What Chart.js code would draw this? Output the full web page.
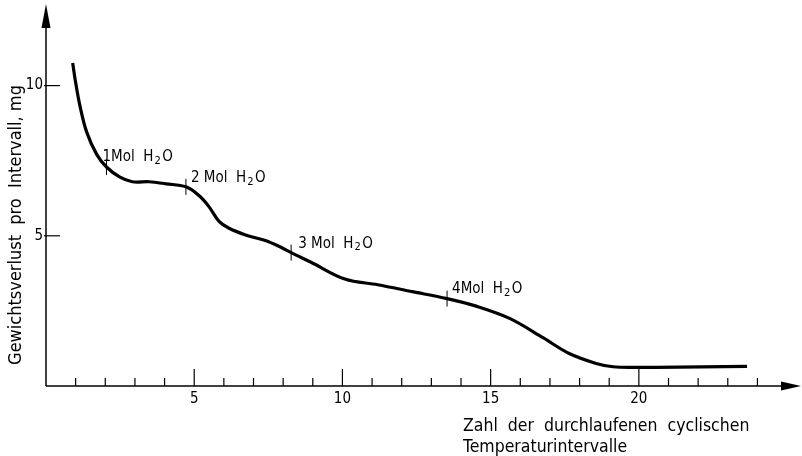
<!DOCTYPE html>
<html><head><meta charset="utf-8">
<script src="https://cdn.jsdelivr.net/npm/chart.js@4.4.0/dist/chart.umd.min.js"></script>
<style>html,body{margin:0;padding:0;background:#fff}#wrap{width:802px;height:456px}</style>
</head><body><div id="wrap"><canvas id="c" width="802" height="456"></canvas></div>
<script>
// ---- data ----
const cycles = [0.90, 1.00, 1.14, 1.37, 1.71, 2.04, 2.48, 2.91, 3.48, 4.05, 4.72, 5.16, 5.49, 5.83, 6.16, 6.73, 7.40, 7.94, 8.27, 8.94, 10.08, 11.19, 12.36, 13.53, 14.54, 15.64, 16.78, 17.65, 18.56, 19.13, 19.90, 20.57, 23.65];
const loss   = [10.75, 10.10, 9.35, 8.46, 7.71, 7.29, 6.96, 6.80, 6.80, 6.73, 6.63, 6.34, 5.98, 5.49, 5.26, 5.03, 4.84, 4.61, 4.44, 4.12, 3.56, 3.37, 3.14, 2.91, 2.65, 2.25, 1.60, 1.08, 0.75, 0.64, 0.62, 0.62, 0.65];
const markerCycles = [2.04, 4.72, 8.27, 13.53];
const markerLoss   = [7.29, 6.63, 4.44, 2.91];
const markerPrefix = ['1Mol  ', '2 Mol  ', '3 Mol  ', '4Mol  '];
const xLabelTicks = [5, 10, 15, 20];
const xMinorTicks = [1,2,3,4,5,6,7,8,9,10,11,12,13,14,15,16,17,18,19,20,21,22,23,24];
const yLabelTicks = [5, 10];
const yTitle = 'Gewichtsverlust  pro  Intervall, mg';
const xTitle = ['Zahl  der  durchlaufenen  cyclischen', 'Temperaturintervalle'];

// ---- styling ----
const FONT = '"DejaVu Sans Condensed", "DejaVu Sans", sans-serif';
const labelOffsets = [[-4, -10], [5, -9], [7, -9], [5, -9]];

const decor = {
  id: 'decor',
  afterDraw(chart) {
    const ctx = chart.ctx, xs = chart.scales.x, ys = chart.scales.y;
    const x0 = xs.getPixelForValue(0), y0 = ys.getPixelForValue(0);
    ctx.save();
    ctx.strokeStyle = '#000'; ctx.fillStyle = '#000'; ctx.lineWidth = 1.5;
    // axis lines
    ctx.beginPath(); ctx.moveTo(x0, y0); ctx.lineTo(790, y0); ctx.stroke();
    ctx.beginPath(); ctx.moveTo(x0, y0); ctx.lineTo(x0, 15); ctx.stroke();
    // arrows
    ctx.beginPath(); ctx.moveTo(801, y0); ctx.lineTo(781, y0 - 4.5); ctx.lineTo(781, y0 + 4.5); ctx.closePath(); ctx.fill();
    ctx.beginPath(); ctx.moveTo(x0, 4); ctx.lineTo(x0 - 4.5, 28); ctx.lineTo(x0 + 4.5, 28); ctx.closePath(); ctx.fill();
    // x ticks (inward)
    ctx.lineWidth = 1.2;
    xMinorTicks.forEach(v => {
      const px = xs.getPixelForValue(v);
      const len = v % 5 === 0 ? 17 : 8;
      ctx.beginPath(); ctx.moveTo(px, y0); ctx.lineTo(px, y0 - len); ctx.stroke();
    });
    // y ticks
    yLabelTicks.forEach(v => {
      const py = ys.getPixelForValue(v);
      ctx.beginPath(); ctx.moveTo(x0 - 2, py); ctx.lineTo(x0 + 14, py); ctx.stroke();
    });
    // marker labels
    ctx.textBaseline = 'middle'; ctx.textAlign = 'left';
    markerCycles.forEach((v, i) => {
      let px = xs.getPixelForValue(v) + labelOffsets[i][0];
      const py = ys.getPixelForValue(markerLoss[i]) + labelOffsets[i][1];
      ctx.font = '15px ' + FONT;
      const a = markerPrefix[i] + 'H';
      ctx.fillText(a, px, py);
      px += ctx.measureText(a).width + 1;
      ctx.font = '11px ' + FONT;
      ctx.fillText('2', px, py + 4);
      px += ctx.measureText('2').width + 1.5;
      ctx.font = '15px ' + FONT;
      ctx.fillText('O', px, py);
    });
    // axis titles
    ctx.font = '17.5px ' + FONT;
    ctx.textAlign = 'left';
    ctx.fillText(xTitle[0], 463, 426);
    ctx.fillText(xTitle[1], 463, 447);
    ctx.save();
    ctx.translate(16, 225); ctx.rotate(-Math.PI / 2);
    ctx.textAlign = 'center';
    ctx.font = '18px ' + FONT;
    ctx.fillText(yTitle, 0, 0);
    ctx.restore();
    ctx.restore();
  }
};

new Chart(document.getElementById('c'), {
  type: 'scatter',
  data: {
    datasets: [
      { data: cycles.map((c, i) => ({x: c, y: loss[i]})), showLine: true, borderColor: '#000', borderWidth: 3.2,
        pointRadius: 0, tension: 0.35, fill: false },
      { data: markerCycles.map((c, i) => ({x: c, y: markerLoss[i]})), pointStyle: 'line', rotation: 90,
        pointRadius: 8, borderColor: '#000', borderWidth: 1, showLine: false }
    ]
  },
  options: {
    responsive: false, animation: false, devicePixelRatio: 1,
    layout: { padding: { left: 0, right: 4, top: 5, bottom: 0 } },
    plugins: { legend: { display: false }, tooltip: { enabled: false } },
    scales: {
      x: {
        type: 'linear', min: 0, max: 25.2,
        afterFit(s) { s.height = 70; },
        afterBuildTicks(s) { s.ticks = xLabelTicks.map(v => ({value: v})); },
        grid: { display: false, drawTicks: false },
        border: { display: false },
        ticks: { color: '#000', padding: 4, font: { family: FONT, size: 15 }, maxRotation: 0, autoSkip: false }
      },
      y: {
        type: 'linear', min: 0, max: 12.45,
        afterFit(s) { s.width = 46; },
        afterBuildTicks(s) { s.ticks = yLabelTicks.map(v => ({value: v})); },
        grid: { display: false, drawTicks: false },
        border: { display: false },
        ticks: { color: '#000', padding: 3, font: { family: FONT, size: 15 } }
      }
    }
  },
  plugins: [decor]
});
</script></body></html>
